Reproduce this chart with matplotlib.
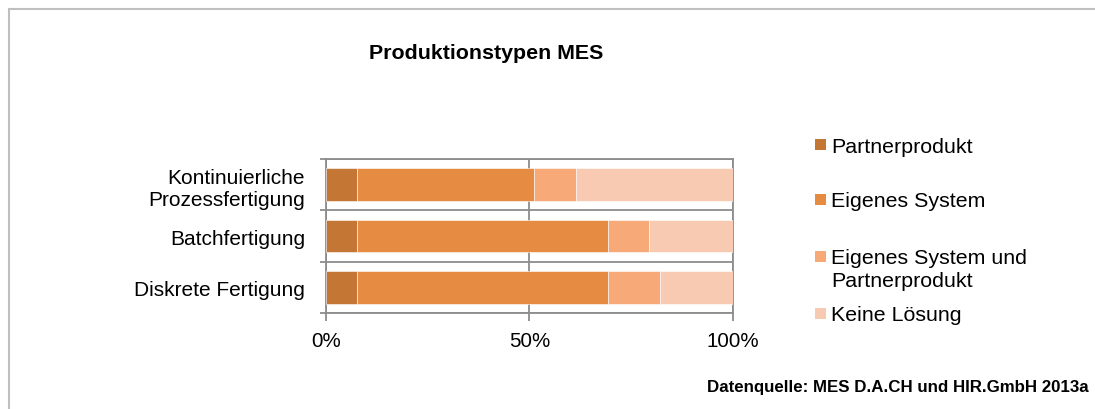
import matplotlib
matplotlib.use("Agg")
import matplotlib.pyplot as plt
from matplotlib.patches import Rectangle
from matplotlib.lines import Line2D
import numpy as np

plt.rcParams['font.family'] = ['Liberation Sans', 'DejaVu Sans']

# data (percent), categories listed top to bottom
categories = ["Kontinuierliche\nProzessfertigung", "Batchfertigung", "Diskrete Fertigung"]
series = ["Partnerprodukt", "Eigenes System", "Eigenes System und\nPartnerprodukt", "Keine Lösung"]
partner = [7.6, 7.6, 7.6]
eigenes = [43.5, 61.6, 61.6]
beides = [10.4, 10.2, 12.8]
keine = [38.5, 20.6, 18.0]
colors = ["#C47734", "#E68C42", "#F7A978", "#F8CAB2"]
xticks = [0, 50, 100]
xticklabels = ["0%", "50%", "100%"]

values = [partner, eigenes, beides, keine]

fig = plt.figure(figsize=(10.95, 4.1), dpi=100)
ax = fig.add_axes([0.2977, 0.2341, 0.3717, 0.3757])

y = np.arange(len(categories))
left = np.zeros(len(categories))
for vals, col in zip(values, colors):
    ax.barh(y, vals, left=left, height=0.64, color=col, edgecolor="white", linewidth=0.4, zorder=3)
    left = left + np.array(vals)

ax.set_xlim(0, 100)
ax.set_ylim(-0.5, len(categories) - 0.5)
ax.invert_yaxis()

grid_col = "#8C8C8C"
ax.set_xticks(xticks)
ax.set_xticklabels(xticklabels, fontsize=14.8)
ax.set_yticks(y)
ax.set_yticklabels(categories, fontsize=15, linespacing=1.2)
ax.set_yticks(np.arange(len(categories) + 1) - 0.5, minor=True)
ax.tick_params(axis="x", length=6, width=1.3, color=grid_col, pad=7)
ax.tick_params(axis="y", which="major", length=0, pad=15)
ax.tick_params(axis="y", which="minor", length=4, width=1.3, color=grid_col)
ax.grid(axis="x", color=grid_col, linewidth=1.3, zorder=1)
ax.grid(axis="y", which="minor", color=grid_col, linewidth=1.3, zorder=1)
for s in ax.spines.values():
    s.set_color(grid_col)
    s.set_linewidth(1.3)

fig.text(0.444, 0.870, "Produktionstypen MES", fontsize=15.4, fontweight="bold", ha="center", va="center")

# legend drawn by hand so the square sits on the first line of each label
leg_y = [0.644, 0.512, 0.373, 0.234]
for lab, col, ly in zip(series, colors, leg_y):
    fig.patches.append(Rectangle((0.7445, ly - 0.0135), 0.0097, 0.027, transform=fig.transFigure,
                                 facecolor=col, edgecolor="none"))
    fig.text(0.759, ly + 0.019, lab, fontsize=15.4, ha="left", va="top", linespacing=1.24)

fig.text(0.646, 0.054, "Datenquelle: MES D.A.CH und HIR.GmbH 2013a", fontsize=12.2, fontweight="bold",
         ha="left", va="center")

# outer chart frame
frame_col = "#BFBFBF"
fig.add_artist(Line2D([0.0078, 1.0], [0.9756, 0.9756], transform=fig.transFigure, color=frame_col, linewidth=1.5))
fig.add_artist(Line2D([0.0078, 0.0078], [0.0, 0.9756], transform=fig.transFigure, color=frame_col, linewidth=1.5))

fig.savefig("out.png", dpi=100)
